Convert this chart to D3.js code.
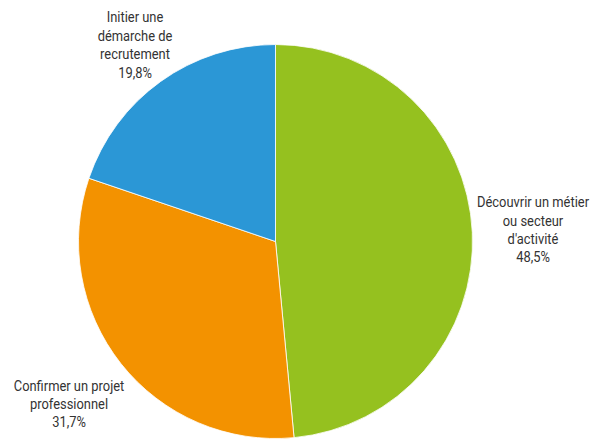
<!DOCTYPE html>
<html><head><meta charset="utf-8">
<script src="https://cdn.jsdelivr.net/npm/d3@7"></script>
<style>
html,body{margin:0;padding:0;background:#fff;}
text{font-family:"Roboto","Liberation Sans Narrow","DejaVu Sans Condensed",sans-serif;font-size:14.5px;fill:#333;}
</style></head>
<body>
<svg id="chart" width="592" height="440"></svg>
<script>
const categories = ["Découvrir un métier ou secteur d'activité", "Confirmer un projet professionnel", "Initier une démarche de recrutement"];
const values = [48.5, 31.7, 19.8];
const valueLabels = ["48,5%", "31,7%", "19,8%"];
const labelLines = [
  ["Découvrir un métier", "ou secteur", "d'activité"],
  ["Confirmer un projet", "professionnel"],
  ["Initier une", "démarche de", "recrutement"]
];
const colors = ["#95c11f", "#f39200", "#2b97d6"];

const svg = d3.select("#chart");
const cx = 275.5, cy = 241.5, r = 197;
const g = svg.append("g").attr("transform", `translate(${cx},${cy})`);
const pie = d3.pie().sort(null).value(d => d)(values);
const arc = d3.arc().innerRadius(0).outerRadius(r);
g.selectAll("path").data(pie).enter().append("path")
  .attr("d", arc).attr("fill", (d, i) => colors[i])
  .attr("stroke", "#fff").attr("stroke-width", 0.8);

// label positions (absolute)
const labelPos = [
  {x: 533, y: 207.5, lh: 18.3},
  {x: 69, y: 391.5, lh: 17.8},
  {x: 135, y: 22.5, lh: 18.5}
];
const sx = 0.89;
labelPos.forEach((p, i) => {
  const t = svg.append("text").attr("text-anchor", "middle")
    .attr("transform", `translate(${p.x},0) scale(${sx},1)`);
  const lines = labelLines[i].concat([valueLabels[i]]);
  lines.forEach((l, j) => {
    t.append("tspan").attr("x", 0).attr("y", p.y + j * p.lh).text(l);
  });
});
</script>
</body></html>
